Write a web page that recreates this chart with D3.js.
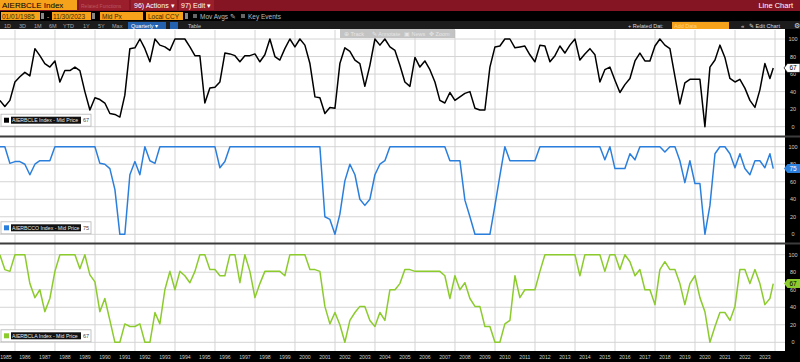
<!DOCTYPE html>
<meta charset="utf-8">
<title>AIERBCLE Line Chart</title>
<style>
body { margin: 0; background: #000; }
svg { display: block; font-family: "Liberation Sans", Arial, sans-serif; }
</style>
<body>
<script src="https://cdn.jsdelivr.net/npm/d3@7"></script>
<script>
// quarterly readings, Q1 1985 .. Q4 2023 (last one is 11/30/2023)
var cleValues = [30,23,30,51,57,62,58,89,81,72,68,75,51,64,64,68,64,40,19,33,
  31,27,15,14,11,36,89,90,100,89,74,100,93,91,87,100,100,100,91,81,
  81,27,44,45,51,84,83,81,74,81,81,83,74,82,100,80,76,89,100,91,
  100,93,72,34,33,15,22,21,72,90,86,76,72,46,70,100,93,100,91,87,
  70,51,46,79,68,75,65,51,30,27,39,30,34,38,40,21,19,19,68,91,
  92,100,100,90,91,92,82,74,93,92,74,81,92,84,93,100,76,83,89,82,
  51,65,68,53,39,48,55,75,84,75,75,92,100,93,89,57,26,50,54,54,
  54,0,68,76,93,79,55,51,54,44,30,22,42,72,55,67];

var ccoValues = [100,100,81,83,83,80,68,80,84,84,84,100,100,100,100,100,100,100,100,100,
  81,80,75,51,0,0,68,83,68,100,84,81,100,100,100,100,100,100,100,100,
  100,100,100,100,76,83,100,100,100,100,100,100,100,100,100,100,100,100,100,100,
  100,100,100,100,100,20,17,0,23,61,80,68,40,33,40,68,80,84,100,100,
  100,100,100,100,100,100,100,100,100,100,84,84,84,39,20,0,0,0,0,33,
  67,100,84,84,84,84,84,84,100,100,100,100,100,100,100,100,100,100,100,100,
  100,85,100,75,75,75,92,85,100,100,100,100,100,94,100,100,84,59,84,58,
  58,0,33,92,100,100,92,76,92,75,68,84,84,76,92,75];

var claValues = [100,83,81,100,100,100,67,51,60,35,50,81,100,100,100,100,84,100,77,69,
  35,50,25,0,0,21,18,18,21,0,0,34,21,60,81,60,81,76,68,81,
  100,100,83,83,76,76,100,100,68,100,81,51,67,81,81,81,81,76,100,100,
  100,100,83,83,81,41,21,34,20,0,25,34,41,41,25,18,34,25,60,60,
  67,83,83,81,81,81,81,81,81,76,50,76,60,68,50,41,41,18,18,0,
  0,21,25,76,51,60,60,60,81,100,100,100,100,100,100,100,76,100,100,100,
  100,81,100,100,83,100,92,76,83,60,60,43,83,92,83,83,67,43,67,76,
  51,35,0,18,34,34,25,41,83,83,67,83,67,43,50,67];

var seriesNames = ["AIERBCLE Index - Mid Price", "AIERBCCO Index - Mid Price", "AIERBCLA Index - Mid Price"];
var lastLabels = ["67", "75", "67"];
var yTicks = [0, 20, 40, 60, 80, 100];
var years = d3.range(1985, 2024);
var quickRanges = ["1D", "3D", "1M", "6M", "YTD", "1Y", "5Y", "Max"];

var w = 800, h = 362, plotRight = 785;

// quarter end dates, last point is the end date of the request
var dates = d3.range(cleValues.length).map(function(i) {
  return d3.timeDay.offset(d3.timeMonth.offset(new Date(1985, 0, 1), 3 * (i + 1)), -1);
});
dates[dates.length - 1] = new Date(2023, 10, 30);

var panels = [
  {top: 30, bottom: 136, y0: 126.7, y100: 39, values: cleValues, color: "#000", tag: "#fff", tagText: "#000"},
  {top: 137, bottom: 243, y0: 234.3, y100: 146.7, values: ccoValues, color: "#2b7fdc", tag: "#2b7fdc", tagText: "#fff"},
  {top: 244, bottom: 351, y0: 342.3, y100: 254.7, values: claValues, color: "#8ccb2c", tag: "#8ccb2c", tagText: "#000"}
];

var x = d3.scaleTime()
    .domain([new Date(1985, 0, 1), new Date(2024, 0, 1)])
    .range([-5, 775]);

var svg = d3.select("body").append("svg")
    .attr("width", w)
    .attr("height", h);

function box(g, x0, y0, bw, bh, fill) {
  return g.append("rect").attr("x", x0).attr("y", y0).attr("width", bw).attr("height", bh).attr("fill", fill);
}
function label(g, x0, y0, txt, fill, size, anchor) {
  return g.append("text").attr("x", x0).attr("y", y0).attr("fill", fill)
      .attr("font-size", size).attr("text-anchor", anchor || "start").text(txt);
}

// ---- header bars
var head = svg.append("g");
box(head, 0, 0, w, 11, "#861523");
box(head, 0, 0, 77, 10, "#f7a21b");
label(head, 2, 8, "AIERBCLE Index", "#000", 8);
box(head, 79, 0, 50, 10, "#9a1e2c");
label(head, 81, 7.5, "Related Functions", "#b85a66", 5);
box(head, 131, 0, 46, 10, "#9a1e2c");
label(head, 134, 8, "96) Actions \u25be", "#fff", 7);
box(head, 179, 0, 35, 10, "#9a1e2c");
label(head, 181, 8, "97) Edit \u25be", "#fff", 7);
label(head, 793, 8, "Line Chart", "#fff", 7.5, "end");

box(head, 0, 11, w, 10, "#000");
box(head, 1, 12, 39, 8, "#f7a21b");
label(head, 2, 18.5, "01/01/1985", "#3a2a00", 6.5);
box(head, 41, 13, 3, 6, "#888");
label(head, 47, 18.5, "-", "#ccc", 6.5);
box(head, 52, 12, 39, 8, "#f7a21b");
label(head, 53, 18.5, "11/30/2023", "#3a2a00", 6.5);
box(head, 92, 13, 3, 6, "#888");
box(head, 100, 12, 43, 8, "#f7a21b");
label(head, 102, 18.5, "Mid Px", "#3a2a00", 6.5);
box(head, 146, 12, 37, 8, "#f7a21b");
label(head, 148, 18.5, "Local CCY", "#3a2a00", 6.5);
box(head, 185, 13, 3, 6, "#888");
box(head, 193, 14, 4, 4, "#666");
label(head, 200, 18.5, "Mov Avgs \u270e", "#bbb", 6.5);
box(head, 241, 14, 4, 4, "#666");
label(head, 248, 18.5, "Key Events", "#bbb", 6.5);

box(head, 0, 21, w, 8, "#1c1c1c");
var qx = [4, 19, 34, 49, 63, 83, 98, 112];
quickRanges.forEach(function(r, i) { label(head, qx[i], 27.5, r, "#aaa", 5.5); });
box(head, 128, 22, 38, 7, "#2462b0");
label(head, 131, 27.5, "Quarterly \u25be", "#fff", 5.5);
box(head, 170, 22, 8, 7, "#2462b0");
label(head, 188, 27.5, "Table", "#ccc", 5.5);
label(head, 628, 27.5, "+ Related Dat:", "#ddd", 5.5);
box(head, 672, 22, 57, 7, "#f7a21b");
label(head, 674, 27.5, "Add Data", "#ffd27a", 5.5);
label(head, 741, 27.5, "\u00ab", "#ddd", 6);
label(head, 749, 27.5, "\u270e Edit Chart", "#ddd", 5.5);
label(head, 797, 27.5, "\u2699", "#ddd", 6.5, "middle");

// ---- chart area
box(svg, 0, 29, plotRight, 322, "#fff");
box(svg, plotRight, 29, w - plotRight, h - 29, "#000");
box(svg, 0, 351, w, 11, "#000");

svg.append("clipPath").attr("id", "plotclip")
  .append("rect").attr("x", 0).attr("y", 29).attr("width", plotRight).attr("height", 322);

var gridYears = years.filter(function(y) { return y % 2 === 0; }).concat([2024]);

panels.forEach(function(p, k) {
  var y = d3.scaleLinear().domain([0, 100]).range([p.y0, p.y100]);
  var g = svg.append("g").attr("clip-path", "url(#plotclip)");

  g.selectAll(".hgrid").data(yTicks).enter().append("line")
      .attr("x1", 0).attr("x2", plotRight)
      .attr("y1", function(d) { return y(d); }).attr("y2", function(d) { return y(d); })
      .attr("stroke", "#d4d4d4").attr("stroke-width", 1);

  g.selectAll(".vgrid").data(gridYears).enter().append("line")
      .attr("x1", function(d) { return x(new Date(d, 0, 1)); })
      .attr("x2", function(d) { return x(new Date(d, 0, 1)); })
      .attr("y1", p.top).attr("y2", p.bottom)
      .attr("stroke", "#d4d4d4").attr("stroke-width", 1);

  var line = d3.line()
      .x(function(d, i) { return x(dates[i]); })
      .y(function(d) { return y(d); });

  g.append("path")
      .datum(p.values)
      .attr("d", line)
      .attr("fill", "none")
      .attr("stroke", p.color)
      .attr("stroke-width", 1.5)
      .attr("stroke-linejoin", "round");

  // right axis labels
  svg.selectAll(".tick" + k).data(yTicks).enter().append("text")
      .attr("x", 793).attr("y", function(d) { return y(d) + 2; })
      .attr("text-anchor", "middle").attr("font-size", 5.5).attr("fill", "#cfcfcf")
      .text(function(d) { return d; });

  // last value tag
  var ly = y(p.values[p.values.length - 1]);
  svg.append("path")
      .attr("d", "M784," + ly + "L787.5," + (ly - 4.5) + "L800," + (ly - 4.5) + "L800," + (ly + 4.5) + "L787.5," + (ly + 4.5) + "Z")
      .attr("fill", p.tag).attr("stroke", k === 0 ? "#000" : "none").attr("stroke-width", 0.7);
  label(svg, 793, ly + 2.3, lastLabels[k], p.tagText, 6.5, "middle");

  // legend
  var lg = svg.append("g");
  var ly0 = p.y0 - 12.5;
  lg.append("rect").attr("x", 1).attr("y", ly0).attr("width", 90).attr("height", 12)
      .attr("fill", "#fff").attr("stroke", "#b5b5b5").attr("stroke-width", 0.8);
  box(lg, 4, ly0 + 3.5, 5, 5, p.color);
  box(lg, 11, ly0 + 2.5, 70, 7, "#111");
  label(lg, 12, ly0 + 8, seriesNames[k], "#e8e8e8", 5.2);
  label(lg, 83, ly0 + 8.2, lastLabels[k], "#444", 5.5);
});

// panel separators
[136.5, 243.5].forEach(function(sy) {
  svg.append("line").attr("x1", 0).attr("x2", w).attr("y1", sy).attr("y2", sy)
      .attr("stroke", "#3c3c3c").attr("stroke-width", 2);
});

// floating chart toolbar
var tb = svg.append("g");
box(tb, 340, 29, 115, 9, "#b9b9b9").attr("opacity", 0.85);
label(tb, 344, 35.5, "\u2295 Track", "#e6e6e6", 5.5);
label(tb, 372, 35.5, "\u270e Annotate", "#e6e6e6", 5.5);
label(tb, 404, 35.5, "\u25a3 News", "#e6e6e6", 5.5);
label(tb, 429, 35.5, "\u2725 Zoom", "#e6e6e6", 5.5);

// year labels, centred in each year
svg.selectAll(".year").data(years).enter().append("text")
    .attr("x", function(d) { return Math.max(6, x(new Date(d, 6, 1))); })
    .attr("y", 359)
    .attr("text-anchor", "middle")
    .attr("font-size", 5.2)
    .attr("fill", "#cfcfcf")
    .text(function(d) { return d; });
</script>
